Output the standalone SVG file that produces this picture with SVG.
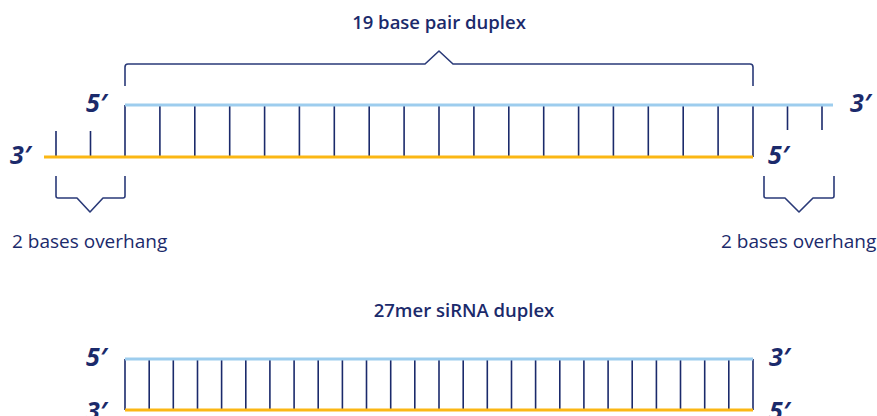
<svg xmlns="http://www.w3.org/2000/svg" width="877" height="416" viewBox="0 0 877 416">
<style>
.t{font-family:"Open Sans","Noto Sans",sans-serif;fill:#1b2a6b}
.title{font-size:18.5px;font-weight:600;text-anchor:middle}
.lab{font-size:19px;font-weight:400}
.end{font-family:"Open Sans","Noto Sans",sans-serif;fill:#1b2a6b;font-size:25px;font-weight:700;font-style:italic}
.blue{stroke:#9dcdee;stroke-width:3;fill:none}
.orange{stroke:#fbb714;stroke-width:3;fill:none}
.rung{stroke:#1b2a6b;stroke-width:1.6;fill:none}
.br{stroke:#2a3a78;stroke-width:1.6;fill:none;stroke-linejoin:round}
</style>
<g id="title-top"><text class="t title" x="439" y="29">19 base pair duplex</text></g>
<g id="bracket-top"><path class="br" d="M125,86 V67 Q125,64 128,64 H425 L439,51 L453,64 H750 Q753,64 753,67 V86"/></g>
<g id="duplex-top">
<g class="rung">
<line x1="125" y1="105" x2="125" y2="157"/><line x1="159.9" y1="105" x2="159.9" y2="157"/><line x1="194.8" y1="105" x2="194.8" y2="157"/><line x1="229.7" y1="105" x2="229.7" y2="157"/><line x1="264.6" y1="105" x2="264.6" y2="157"/><line x1="299.4" y1="105" x2="299.4" y2="157"/><line x1="334.3" y1="105" x2="334.3" y2="157"/><line x1="369.2" y1="105" x2="369.2" y2="157"/><line x1="404.1" y1="105" x2="404.1" y2="157"/><line x1="439" y1="105" x2="439" y2="157"/><line x1="473.9" y1="105" x2="473.9" y2="157"/><line x1="508.8" y1="105" x2="508.8" y2="157"/><line x1="543.7" y1="105" x2="543.7" y2="157"/><line x1="578.6" y1="105" x2="578.6" y2="157"/><line x1="613.4" y1="105" x2="613.4" y2="157"/><line x1="648.3" y1="105" x2="648.3" y2="157"/><line x1="683.2" y1="105" x2="683.2" y2="157"/><line x1="718.1" y1="105" x2="718.1" y2="157"/><line x1="753" y1="105" x2="753" y2="157"/>
<line x1="56" y1="131" x2="56" y2="157"/><line x1="90.5" y1="131" x2="90.5" y2="157"/>
<line x1="787.5" y1="105" x2="787.5" y2="130"/><line x1="822" y1="105" x2="822" y2="130"/>
</g>
<line class="blue" x1="125" y1="105" x2="833" y2="105"/>
<line class="orange" x1="44" y1="157" x2="753" y2="157"/>
<text class="end" x="86" y="112">5′</text>
<text class="end" x="10" y="164">3′</text>
<text class="end" x="850" y="112">3′</text>
<text class="end" x="768" y="164">5′</text>
</g>
<g id="overhang-left">
<path class="br" d="M56,176 V196 Q56,198 58,198 H77 L90,212 L103,198 H123 Q125,198 125,196 V176"/>
<text class="t lab" x="12" y="248">2 bases overhang</text>
</g>
<g id="overhang-right">
<path class="br" d="M764,176 V196 Q764,198 766,198 H785 L799,212 L813,198 H832 Q834,198 834,196 V176"/>
<text class="t lab" x="721" y="248">2 bases overhang</text>
</g>
<g id="title-bottom"><text class="t title" x="464" y="317">27mer siRNA duplex</text></g>
<g id="duplex-bottom">
<g class="rung">
<line x1="125" y1="359" x2="125" y2="410"/><line x1="149.2" y1="359" x2="149.2" y2="410"/><line x1="173.3" y1="359" x2="173.3" y2="410"/><line x1="197.5" y1="359" x2="197.5" y2="410"/><line x1="221.6" y1="359" x2="221.6" y2="410"/><line x1="245.8" y1="359" x2="245.8" y2="410"/><line x1="269.9" y1="359" x2="269.9" y2="410"/><line x1="294.1" y1="359" x2="294.1" y2="410"/><line x1="318.2" y1="359" x2="318.2" y2="410"/><line x1="342.4" y1="359" x2="342.4" y2="410"/><line x1="366.5" y1="359" x2="366.5" y2="410"/><line x1="390.7" y1="359" x2="390.7" y2="410"/><line x1="414.8" y1="359" x2="414.8" y2="410"/><line x1="439" y1="359" x2="439" y2="410"/><line x1="463.2" y1="359" x2="463.2" y2="410"/><line x1="487.3" y1="359" x2="487.3" y2="410"/><line x1="511.5" y1="359" x2="511.5" y2="410"/><line x1="535.6" y1="359" x2="535.6" y2="410"/><line x1="559.8" y1="359" x2="559.8" y2="410"/><line x1="583.9" y1="359" x2="583.9" y2="410"/><line x1="608.1" y1="359" x2="608.1" y2="410"/><line x1="632.2" y1="359" x2="632.2" y2="410"/><line x1="656.4" y1="359" x2="656.4" y2="410"/><line x1="680.5" y1="359" x2="680.5" y2="410"/><line x1="704.7" y1="359" x2="704.7" y2="410"/><line x1="728.8" y1="359" x2="728.8" y2="410"/><line x1="753" y1="359" x2="753" y2="410"/>
</g>
<line class="blue" x1="125" y1="359" x2="753" y2="359"/>
<line class="orange" x1="125" y1="410" x2="753" y2="410"/>
<text class="end" x="86" y="366">5′</text>
<text class="end" x="86" y="420">3′</text>
<text class="end" x="769" y="366">3′</text>
<text class="end" x="769" y="420">5′</text>
</g>
</svg>
